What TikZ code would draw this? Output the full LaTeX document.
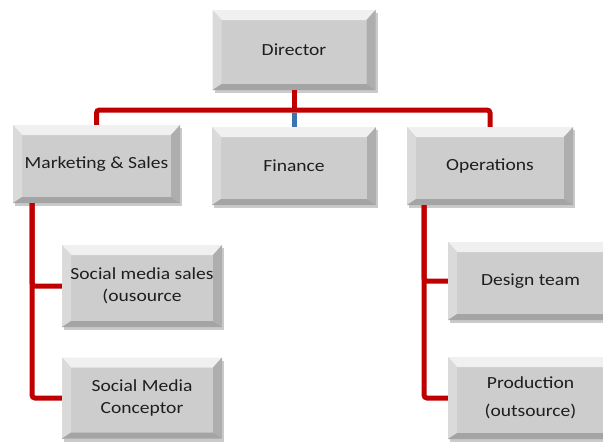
\documentclass[tikz,border=0pt]{standalone}
\usepackage{fontspec}
\setmainfont{Carlito}[FakeStretch=1.15]
\usetikzlibrary{shadows,calc}
\definecolor{face}{HTML}{CDCDCD}
\definecolor{bevtop}{HTML}{F0F0F0}
\definecolor{bevleft}{HTML}{DADADA}
\definecolor{bevright}{HTML}{AEAEAE}
\definecolor{bevbot}{HTML}{A4A4A4}
\definecolor{linered}{HTML}{C00000}
\definecolor{lineblue}{HTML}{3F73B0}
\definecolor{txt}{HTML}{1E1E1E}
\tikzset{
  orgbox/.style={draw=none, fill=face, text=txt, align=center,
    font=\fontsize{17}{22}\selectfont, inner sep=0pt,
    drop shadow={shadow xshift=2pt, shadow yshift=-3pt, opacity=0.35, fill=black!60},
    path picture={
      \coordinate (pnw) at (path picture bounding box.north west);
      \coordinate (pne) at (path picture bounding box.north east);
      \coordinate (psw) at (path picture bounding box.south west);
      \coordinate (pse) at (path picture bounding box.south east);
      \fill[bevtop] (pnw) -- (pne) -- ($(pne)+(-9pt,-10pt)$) -- ($(pnw)+(9pt,-10pt)$) -- cycle;
      \fill[bevleft] (pnw) -- ($(pnw)+(9pt,-10pt)$) -- ($(psw)+(9pt,6pt)$) -- (psw) -- cycle;
      \fill[bevright] (pne) -- ($(pne)+(-9pt,-10pt)$) -- ($(pse)+(-9pt,6pt)$) -- (pse) -- cycle;
      \fill[bevbot] (psw) -- ($(psw)+(9pt,6pt)$) -- ($(pse)+(-9pt,6pt)$) -- (pse) -- cycle;
    }},
  redline/.style={draw=linered, line width=5pt, rounded corners=3pt},
  blueline/.style={draw=lineblue, line width=5pt}
}
\begin{document}
\begin{tikzpicture}[x=1pt,y=-1pt]
\useasboundingbox (0,0) rectangle (603,442);
\coordinate (bus) at (294,110);
\coordinate (lx) at (32,0);
\coordinate (rx) at (424,0);
\node[orgbox, minimum width=163pt, minimum height=80pt] (dir) at (294,50) {Director};
\node[orgbox, minimum width=167pt, minimum height=78pt] (mk) at (96.5,164) {Marketing \& Sales};
\node[orgbox, minimum width=164pt, minimum height=78pt] (fin) at (294,166) {Finance};
\node[orgbox, minimum width=166pt, minimum height=78pt] (op) at (490,166) {Operations};
\node[orgbox, minimum width=160pt, minimum height=82pt] (sm1) at (142,286) {Social media sales\\(ousource};
\node[orgbox, minimum width=160pt, minimum height=81pt] (sm2) at (142,398) {Social Media\\Conceptor};
\node[orgbox, minimum width=165pt, minimum height=78pt] (dt) at (530.5,281) {Design team};
\node[orgbox, minimum width=165pt, minimum height=82pt, font=\fontsize{17}{28}\selectfont] (pr) at (530.5,398) {Production\\(outsource)};
\draw[redline] (mk.north) |- (bus) -| (op.north);
\draw[redline] (dir.south) -- (bus);
\draw[blueline] ($(bus)+(0,2.5)$) -- (fin.north);
\draw[redline] (mk.south -| lx) |- (sm1.west);
\draw[redline] (mk.south -| lx) |- (sm2.west);
\draw[redline] (op.south -| rx) |- (dt.west);
\draw[redline] (op.south -| rx) |- (pr.west);
\end{tikzpicture}
\end{document}
